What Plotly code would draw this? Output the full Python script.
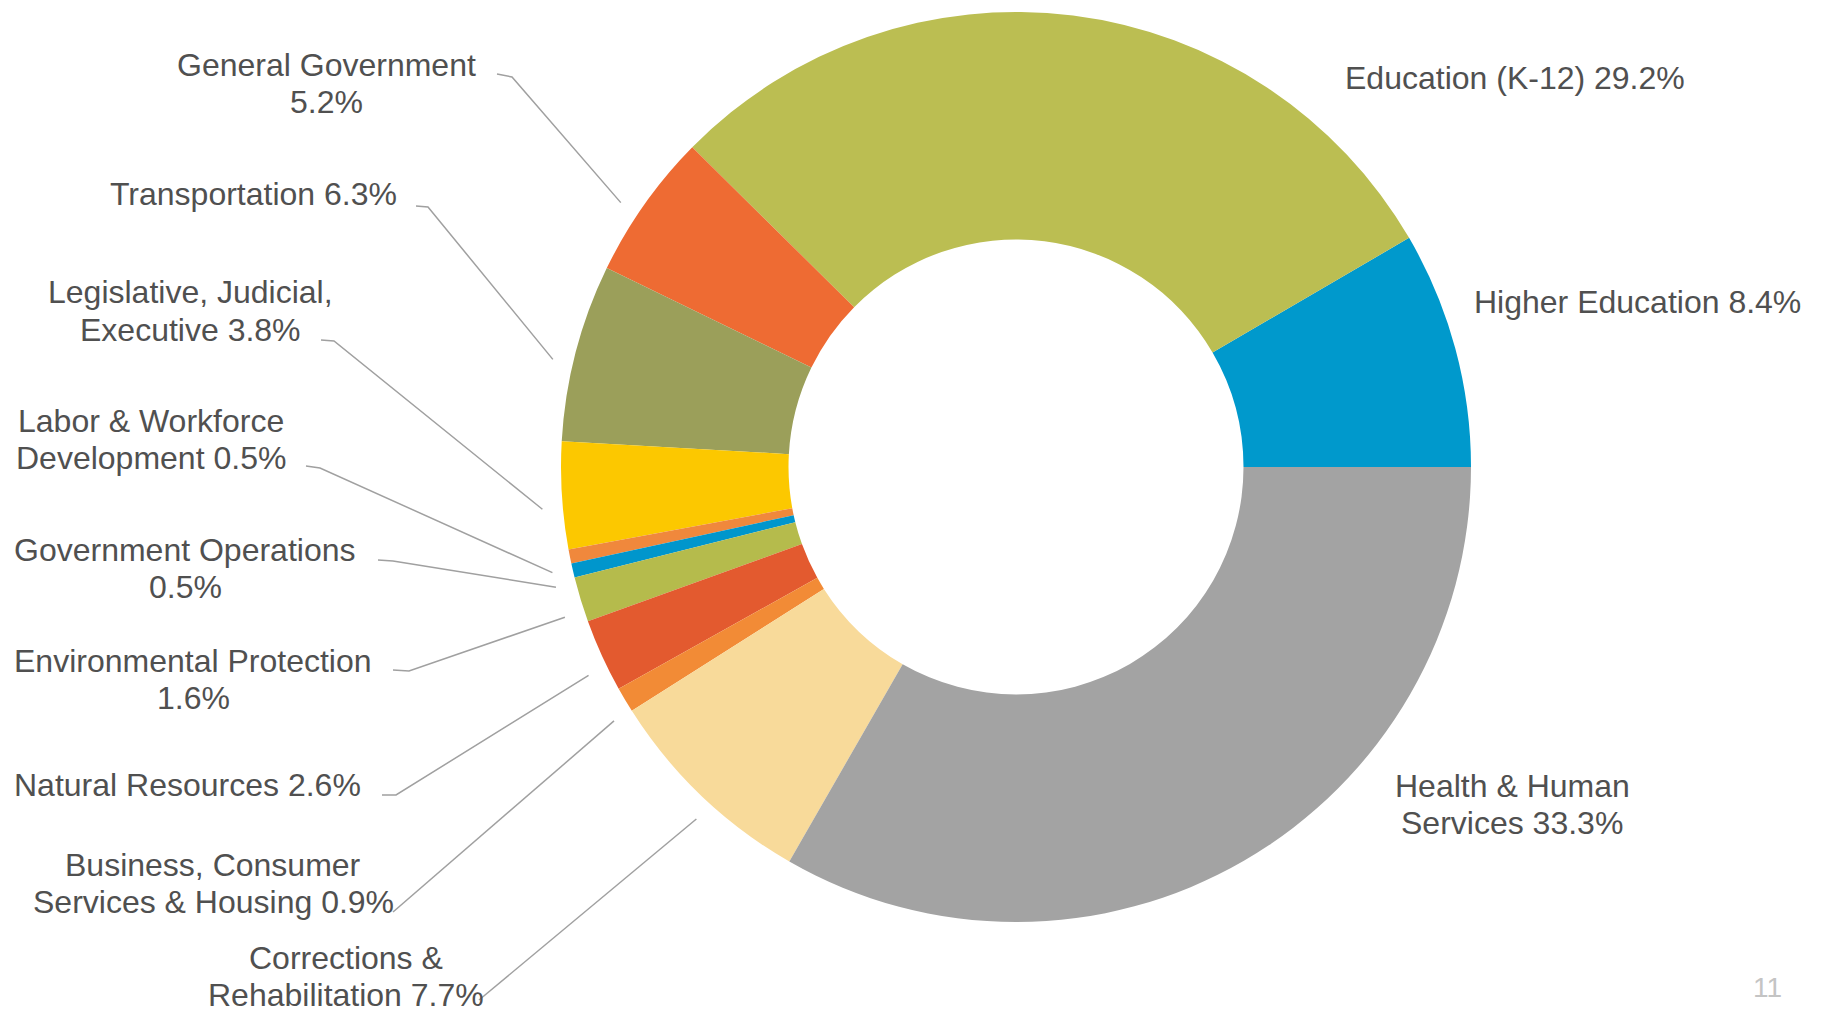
import math
import plotly.graph_objects as go

W, H = 1824, 1012

# ---- data ----
categories = ["Higher Education", "Education (K-12)", "General Government", "Transportation",
              "Legislative, Judicial, Executive", "Labor & Workforce Development",
              "Government Operations", "Environmental Protection", "Natural Resources",
              "Business, Consumer Services & Housing", "Corrections & Rehabilitation",
              "Health & Human Services"]
values = [8.4, 29.2, 5.2, 6.3, 3.8, 0.5, 0.5, 1.6, 2.6, 0.9, 7.7, 33.3]
colors = ["#0099CC", "#BBBE52", "#EE6B33", "#9B9F5A", "#FCC800", "#F0883C",
          "#0096CC", "#B5BB4C", "#E35A2F", "#F28B36", "#F8DA9A", "#A3A3A3"]
label_fmt = ["Higher Education {}%", "Education (K-12) {}%", "General Government<br>{}%",
             "Transportation {}%", "Legislative, Judicial,<br>Executive {}%",
             "Labor & Workforce<br>Development {}%", "Government Operations<br>{}%",
             "Environmental Protection<br>{}%", "Natural Resources {}%",
             "Business, Consumer<br>Services & Housing {}%", "Corrections &<br>Rehabilitation {}%",
             "Health & Human<br>Services {}%"]

# ---- layout (pixel positions in the 1824x1012 window) ----
CX, CY, R = 1016, 467, 455
LINE_H = 37
label_pos = [(1637, 302), (1515, 78), (326, 83), (254, 194), (190, 311), (151, 439),
             (185, 568), (193, 679), (187, 785), (213, 883), (346, 976), (1512, 804)]
# leader line start / knee points (None = no leader)
leader_pts = [None, None,
              [(497, 74), (512, 77)], [(416, 206), (428, 207)], [(321, 340), (334, 341)],
              [(306, 466), (320, 468)], [(378, 560), (393, 561)], [(393, 670), (409, 671)],
              [(382, 795), (396, 795)], [(393, 912)], [(479, 1000)], None]


def px(x):
    return x / W


def py(y):
    return 1 - y / H


total = sum(values)
fig = go.Figure(go.Pie(
    labels=categories, values=values, sort=False, direction="counterclockwise",
    rotation=90 - 360 * values[0] / total, hole=0.5, textinfo="none",
    marker=dict(colors=colors, line=dict(width=0)),
    domain=dict(x=[px(CX - R), px(CX + R)], y=[py(CY + R), py(CY - R)]),
    showlegend=False, hoverinfo="label+percent"))

font = dict(family="Liberation Sans, Arial, sans-serif", size=32, color="#505050")
annotations = []
shapes = []
cum = 0.0
for i, v in enumerate(values):
    mid = (cum + v / 2) / total * 360 + 1.5
    cum += v
    lx, ly = label_pos[i]
    lines = label_fmt[i].format(v).split("<br>")
    for k, line in enumerate(lines):
        yy = ly + (k - (len(lines) - 1) / 2) * LINE_H
        annotations.append(dict(x=px(lx), y=py(yy), xref="paper", yref="paper",
                                text=line, showarrow=False, xanchor="center",
                                yanchor="middle", align="center", font=font))
    if leader_pts[i]:
        ex = CX + 1.045 * R * math.cos(math.radians(mid))
        ey = CY - 1.045 * R * math.sin(math.radians(mid))
        pts = leader_pts[i] + [(ex, ey)]
        path = "M " + " L ".join(f"{px(x):.5f},{py(y):.5f}" for x, y in pts)
        shapes.append(dict(type="path", path=path, xref="paper", yref="paper",
                           line=dict(color="#A0A0A0", width=1.5)))

annotations.append(dict(x=px(1767), y=py(987), xref="paper", yref="paper", text="11",
                        showarrow=False, xanchor="center", yanchor="middle",
                        font=dict(family="Liberation Sans, Arial, sans-serif", size=28,
                                  color="#C4C4C4")))

fig.update_layout(width=W, height=H, margin=dict(l=0, r=0, t=0, b=0),
                  paper_bgcolor="white", plot_bgcolor="white",
                  annotations=annotations, shapes=shapes)
fig.write_html("out.html", config={"displayModeBar": False},
               post_script="document.body.style.margin='0';document.body.style.overflow='hidden';")
